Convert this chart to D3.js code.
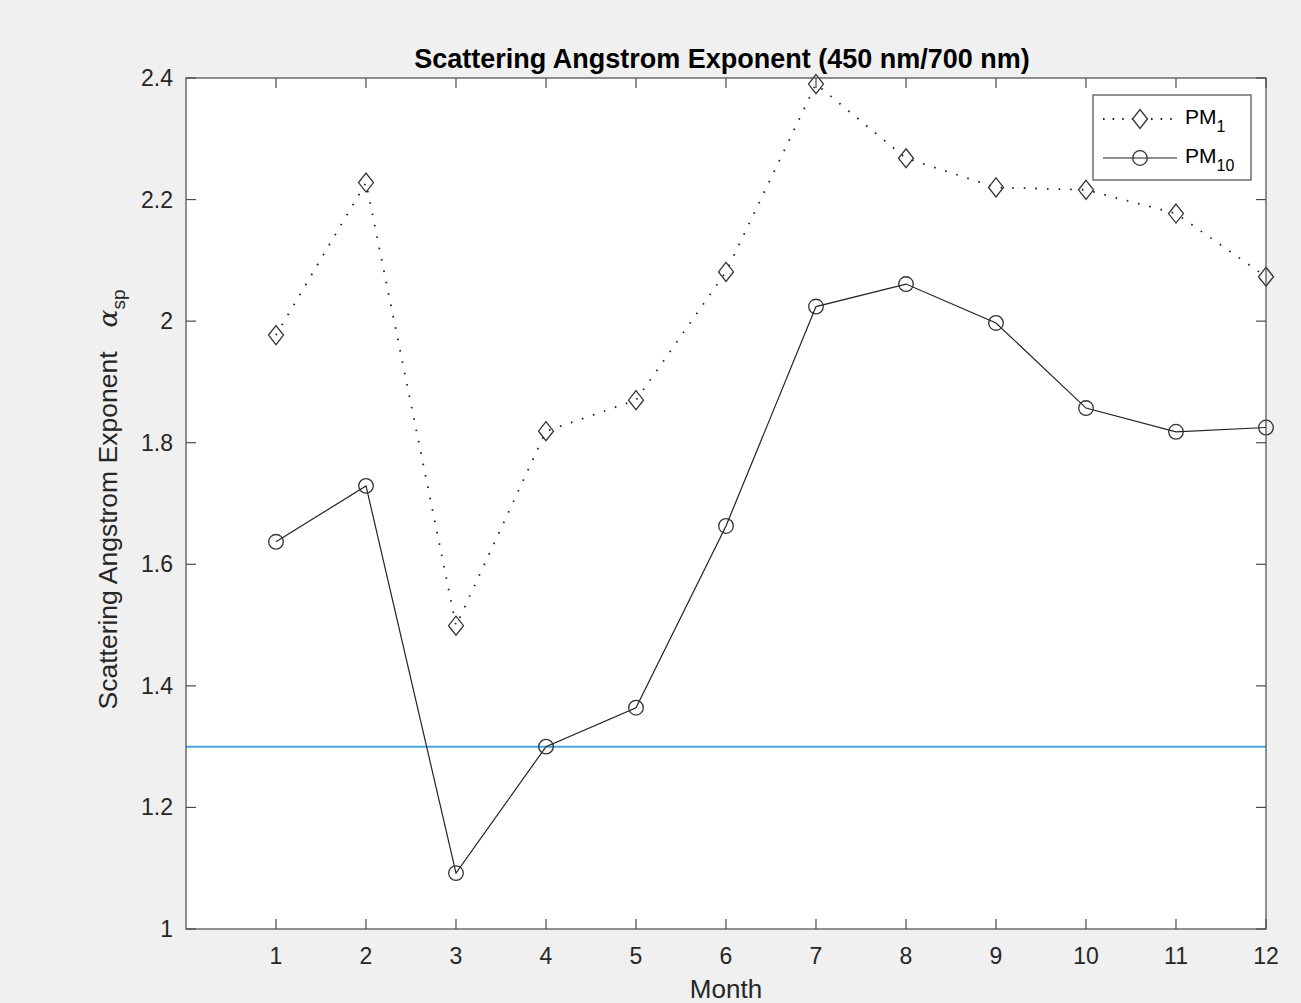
<!DOCTYPE html>
<html>
<head>
<meta charset="utf-8">
<script src="https://cdn.jsdelivr.net/npm/d3@7"></script>
<style>
  body { margin: 0; background: #f0f0f0; }
  svg { display: block; font-family: "Liberation Sans", Arial, sans-serif; }
</style>
</head>
<body>
<script>
const months = [1, 2, 3, 4, 5, 6, 7, 8, 9, 10, 11, 12]
const pm1 = [1.977, 2.228, 1.499, 1.819, 1.870, 2.081, 2.390, 2.268, 2.220, 2.216, 2.177, 2.073]
const pm10 = [1.637, 1.729, 1.092, 1.300, 1.364, 1.663, 2.024, 2.061, 1.997, 1.857, 1.818, 1.825]
const refLine = 1.3
const yTicks = [1, 1.2, 1.4, 1.6, 1.8, 2, 2.2, 2.4]

const width = 1301
const height = 1003
const margin = { top: 78, right: 35, bottom: 74, left: 186 }
const axisColor = "#4a4a4a"

const svg = d3.select("body").append("svg")
  .attr("width", width)
  .attr("height", height)

const x = d3.scaleLinear().domain([0, 12]).range([margin.left, width - margin.right])
const y = d3.scaleLinear().domain([1, 2.4]).range([height - margin.bottom, margin.top])

// plot background
svg.append("rect")
  .attr("x", x(0)).attr("y", y(2.4))
  .attr("width", x(12) - x(0)).attr("height", y(1) - y(2.4))
  .attr("fill", "#fff")

// reference line
svg.append("line")
  .attr("x1", x(0)).attr("x2", x(12))
  .attr("y1", y(refLine)).attr("y2", y(refLine))
  .attr("stroke", "#46a8dc")
  .attr("stroke-width", 2)

const line = d3.line().x((d, i) => x(months[i])).y(d => y(d))

svg.append("path")
  .datum(pm1)
  .attr("d", line)
  .attr("fill", "none")
  .attr("stroke", "#222")
  .attr("stroke-width", 1.8)
  .attr("stroke-dasharray", "1.6,10")

svg.append("path")
  .datum(pm10)
  .attr("d", line)
  .attr("fill", "none")
  .attr("stroke", "#222")
  .attr("stroke-width", 1.2)

const diamond = (cx, cy) => `M${cx},${cy - 9.5}L${cx + 7.5},${cy}L${cx},${cy + 9.5}L${cx - 7.5},${cy}Z`

svg.append("g").selectAll("path")
  .data(pm1)
  .join("path")
  .attr("d", (d, i) => diamond(x(months[i]), y(d)))
  .attr("fill", "none")
  .attr("stroke", "#333")
  .attr("stroke-width", 1.3)

svg.append("g").selectAll("circle")
  .data(pm10)
  .join("circle")
  .attr("cx", (d, i) => x(months[i]))
  .attr("cy", d => y(d))
  .attr("r", 7.3)
  .attr("fill", "none")
  .attr("stroke", "#333")
  .attr("stroke-width", 1.3)

// axes box and ticks
const tickLen = 10
const axes = svg.append("g").attr("stroke", axisColor).attr("stroke-width", 1.2)

axes.append("rect")
  .attr("x", x(0)).attr("y", y(2.4))
  .attr("width", x(12) - x(0)).attr("height", y(1) - y(2.4))
  .attr("fill", "none")

axes.selectAll(".xt")
  .data(months)
  .join("g")
  .each(function (m) {
    const g = d3.select(this)
    g.append("line").attr("x1", x(m)).attr("x2", x(m)).attr("y1", y(1)).attr("y2", y(1) - tickLen)
    g.append("line").attr("x1", x(m)).attr("x2", x(m)).attr("y1", y(2.4)).attr("y2", y(2.4) + tickLen)
  })

axes.selectAll(".yt")
  .data(yTicks)
  .join("g")
  .each(function (v) {
    const g = d3.select(this)
    g.append("line").attr("x1", x(0)).attr("x2", x(0) + tickLen).attr("y1", y(v)).attr("y2", y(v))
    g.append("line").attr("x1", x(12)).attr("x2", x(12) - tickLen).attr("y1", y(v)).attr("y2", y(v))
  })

// tick labels
svg.append("g").selectAll("text")
  .data(months)
  .join("text")
  .attr("x", d => x(d))
  .attr("y", y(1) + 35)
  .attr("text-anchor", "middle")
  .attr("font-size", 23)
  .attr("fill", "#262626")
  .text(d => d)

svg.append("g").selectAll("text")
  .data(yTicks)
  .join("text")
  .attr("x", x(0) - 13)
  .attr("y", d => y(d) + 8)
  .attr("text-anchor", "end")
  .attr("font-size", 23)
  .attr("fill", "#262626")
  .text(d => d3.format("~g")(d))

// title and labels
svg.append("text")
  .attr("x", 722)
  .attr("y", 68)
  .attr("text-anchor", "middle")
  .attr("font-size", 27)
  .attr("font-weight", "bold")
  .attr("fill", "#000")
  .text("Scattering Angstrom Exponent (450 nm/700 nm)")

svg.append("text")
  .attr("x", (x(0) + x(12)) / 2)
  .attr("y", 998)
  .attr("text-anchor", "middle")
  .attr("font-size", 26)
  .attr("fill", "#262626")
  .text("Month")

const yl = svg.append("text")
  .attr("transform", `translate(117,${(y(1) + y(2.4)) / 2 - 4}) rotate(-90)`)
  .attr("text-anchor", "middle")
  .attr("font-size", 26.5)
  .attr("fill", "#262626")
yl.append("tspan").text("Scattering Angstrom Exponent")
yl.append("tspan").attr("dx", 24).attr("font-family", "'DejaVu Serif', serif").attr("font-style", "italic").text("α")
yl.append("tspan").attr("font-size", 19).attr("dy", 8).text("sp")

// legend
const leg = svg.append("g").attr("transform", "translate(1093,95)")
leg.append("rect")
  .attr("width", 158).attr("height", 85)
  .attr("fill", "#fff")
  .attr("stroke", axisColor)
  .attr("stroke-width", 1.2)

const legendItems = [
  { name: "PM", sub: "1", dash: "1.6,8", sw: 1.8, shape: "diamond", ly: 24 },
  { name: "PM", sub: "10", dash: null, sw: 1.2, shape: "circle", ly: 63 }
]
legendItems.forEach(it => {
  leg.append("line")
    .attr("x1", 10).attr("x2", 84).attr("y1", it.ly).attr("y2", it.ly)
    .attr("stroke", "#222").attr("stroke-width", it.sw)
    .attr("stroke-dasharray", it.dash)
  if (it.shape === "diamond") {
    leg.append("path").attr("d", diamond(47, it.ly))
      .attr("fill", "#fff").attr("stroke", "#333").attr("stroke-width", 1.3)
  } else {
    leg.append("circle").attr("cx", 47).attr("cy", it.ly).attr("r", 7.3)
      .attr("fill", "none").attr("stroke", "#333").attr("stroke-width", 1.3)
  }
  const t = leg.append("text")
    .attr("x", 92).attr("y", it.ly + 5)
    .attr("font-size", 21).attr("fill", "#000")
  t.append("tspan").text(it.name)
  t.append("tspan").attr("font-size", 16).attr("dy", 8).text(it.sub)
})
</script>
</body>
</html>
